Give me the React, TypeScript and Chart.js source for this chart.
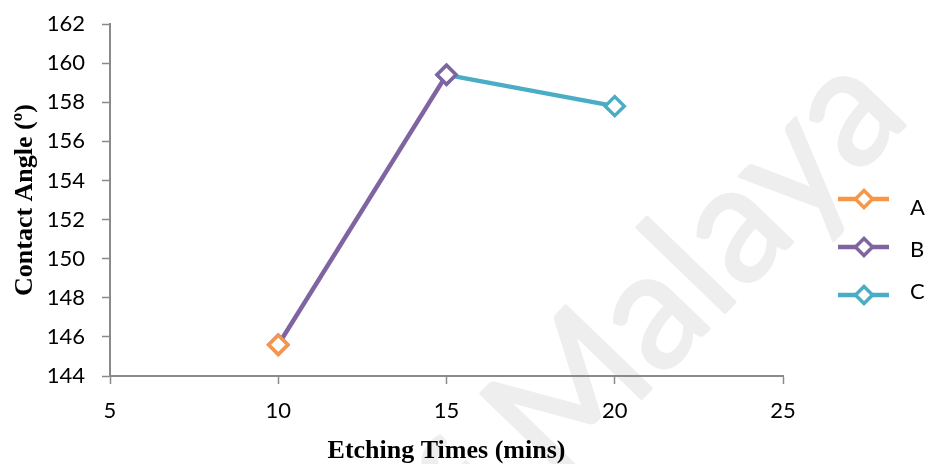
import { useEffect, useRef } from "react";
import { Chart, registerables } from "chart.js";

Chart.register(...registerables);

// Series names and colours
const seriesNames = ["A", "B", "C"];
const seriesColors = ["#F79646", "#8064A2", "#4BACC6"];

// Etching time (mins) and contact angle (°) for each series
const timesA = [10];
const anglesA = [145.6];
const timesB = [10, 15];
const anglesB = [145.6, 159.4];
const timesC = [15, 20];
const anglesC = [159.4, 157.8];

// Axis ticks
const xTicks = [5, 10, 15, 20, 25];
const yTicks = [144, 146, 148, 150, 152, 154, 156, 158, 160, 162];

const AXIS_GREY = "#8a8a8a";
const TICK_FONT = { family: "Lato", size: 22 };
const TITLE_FONT = { family: "'Liberation Serif', 'Times New Roman', serif", size: 26, weight: "bold" as const, lineHeight: 1 };

const WATERMARK_TEXT = "University of Malaya";

const toPoints = (xs: number[], ys: number[]) => xs.map((x, i) => ({ x, y: ys[i] }));

function drawDiamond(ctx: CanvasRenderingContext2D, x: number, y: number, r: number) {
  ctx.beginPath();
  ctx.moveTo(x, y - r);
  ctx.lineTo(x + r, y);
  ctx.lineTo(x, y + r);
  ctx.lineTo(x - r, y);
  ctx.closePath();
}

// Faint diagonal watermark behind the plot, placed by the "l" of "Malaya"
const watermarkPlugin = {
  id: "watermark",
  beforeDraw(chart: Chart) {
    const ctx = chart.ctx;
    ctx.save();
    ctx.translate(730, 307);
    ctx.rotate((-46 * Math.PI) / 180);
    ctx.font = "166px Lato";
    const head = ctx.measureText("University of Ma").width;
    const lw = ctx.measureText("l").width;
    const tail = ctx.measureText("laya").width - lw / 2;
    const k = 263 / tail;
    ctx.scale(k, 1);
    ctx.fillStyle = "#eeeeee";
    ctx.strokeStyle = "#eeeeee";
    ctx.lineWidth = 3;
    ctx.lineJoin = "round";
    ctx.textAlign = "left";
    ctx.textBaseline = "alphabetic";
    ctx.fillText(WATERMARK_TEXT, -(head + lw / 2), 0);
    ctx.strokeText(WATERMARK_TEXT, -(head + lw / 2), 0);
    ctx.restore();
  },
};

// Legend on the right: line segment with a diamond marker, then the label
const sideLegendPlugin = {
  id: "sideLegend",
  afterDraw(chart: Chart) {
    const ctx = chart.ctx;
    const left = chart.chartArea.right + 55;
    chart.data.datasets.forEach((ds: any, i: number) => {
      const ly = 199 + i * 48;
      ctx.save();
      ctx.strokeStyle = ds.borderColor;
      ctx.lineWidth = 4.5;
      ctx.beginPath();
      ctx.moveTo(left, ly);
      ctx.lineTo(left + 51, ly);
      ctx.stroke();
      drawDiamond(ctx, left + 26, ly, 8.5);
      ctx.fillStyle = "#ffffff";
      ctx.fill();
      ctx.lineWidth = 3.5;
      ctx.stroke();
      ctx.fillStyle = "#000000";
      ctx.font = "22px Lato";
      ctx.textAlign = "left";
      ctx.textBaseline = "middle";
      ctx.fillText(ds.label, left + 72, 208 + i * 42);
      ctx.restore();
    });
  },
};

export default function App() {
  const canvasRef = useRef<HTMLCanvasElement | null>(null);

  useEffect(() => {
    document.body.style.margin = "0";
    const canvas = canvasRef.current;
    if (!canvas) return;

    const series = [toPoints(timesA, anglesA), toPoints(timesB, anglesB), toPoints(timesC, anglesC)];

    const chart = new Chart(canvas, {
      type: "line",
      data: {
        datasets: series.map((data, i) => ({
          label: seriesNames[i],
          data,
          borderColor: seriesColors[i],
          backgroundColor: "#ffffff",
          borderWidth: 4.5,
          pointStyle: "rectRot",
          pointRadius: 9.5,
          pointBorderWidth: 3.5,
          pointBackgroundColor: "#ffffff",
          pointBorderColor: seriesColors[i],
          tension: 0,
          fill: false,
        })),
      },
      plugins: [watermarkPlugin, sideLegendPlugin],
      options: {
        responsive: false,
        animation: false,
        events: [],
        layout: { padding: { top: 24, right: 143, left: 0, bottom: 0 } },
        plugins: {
          legend: { display: false },
          tooltip: { enabled: false },
        },
        scales: {
          x: {
            type: "linear",
            min: 5,
            max: 25,
            afterBuildTicks: (scale: any) => {
              scale.ticks = xTicks.map((value) => ({ value }));
            },
            afterFit: (scale: any) => {
              scale.height = 88;
            },
            grid: {
              drawOnChartArea: false,
              drawTicks: true,
              tickLength: 8,
              tickWidth: 1.5,
              tickColor: AXIS_GREY,
            },
            border: { display: true, color: AXIS_GREY, width: 2 },
            ticks: { color: "#000000", font: TICK_FONT, padding: 14, maxRotation: 0 },
            title: {
              display: true,
              text: "Etching Times (mins)",
              color: "#000000",
              font: TITLE_FONT,
              padding: { top: 0, bottom: 0 },
            },
          },
          y: {
            type: "linear",
            min: 144,
            max: 162,
            afterBuildTicks: (scale: any) => {
              scale.ticks = yTicks.map((value) => ({ value }));
            },
            afterFit: (scale: any) => {
              scale.width = 110;
              // the layout padding alone sets the plot's top edge
              scale.paddingTop = 0;
              scale.paddingBottom = 0;
            },
            grid: {
              drawOnChartArea: false,
              drawTicks: true,
              tickLength: 8,
              tickWidth: 1.5,
              tickColor: AXIS_GREY,
            },
            border: { display: true, color: AXIS_GREY, width: 2 },
            ticks: { color: "#000000", font: TICK_FONT, padding: 17 },
            title: {
              display: true,
              text: "Contact Angle (º)",
              color: "#000000",
              font: TITLE_FONT,
              padding: { top: 12, bottom: 0 },
            },
          },
        },
      },
    });

    return () => chart.destroy();
  }, []);

  return (
    <div style={{ width: 926, height: 464 }}>
      <canvas ref={canvasRef} width={926} height={464} style={{ display: "block" }} />
    </div>
  );
}
